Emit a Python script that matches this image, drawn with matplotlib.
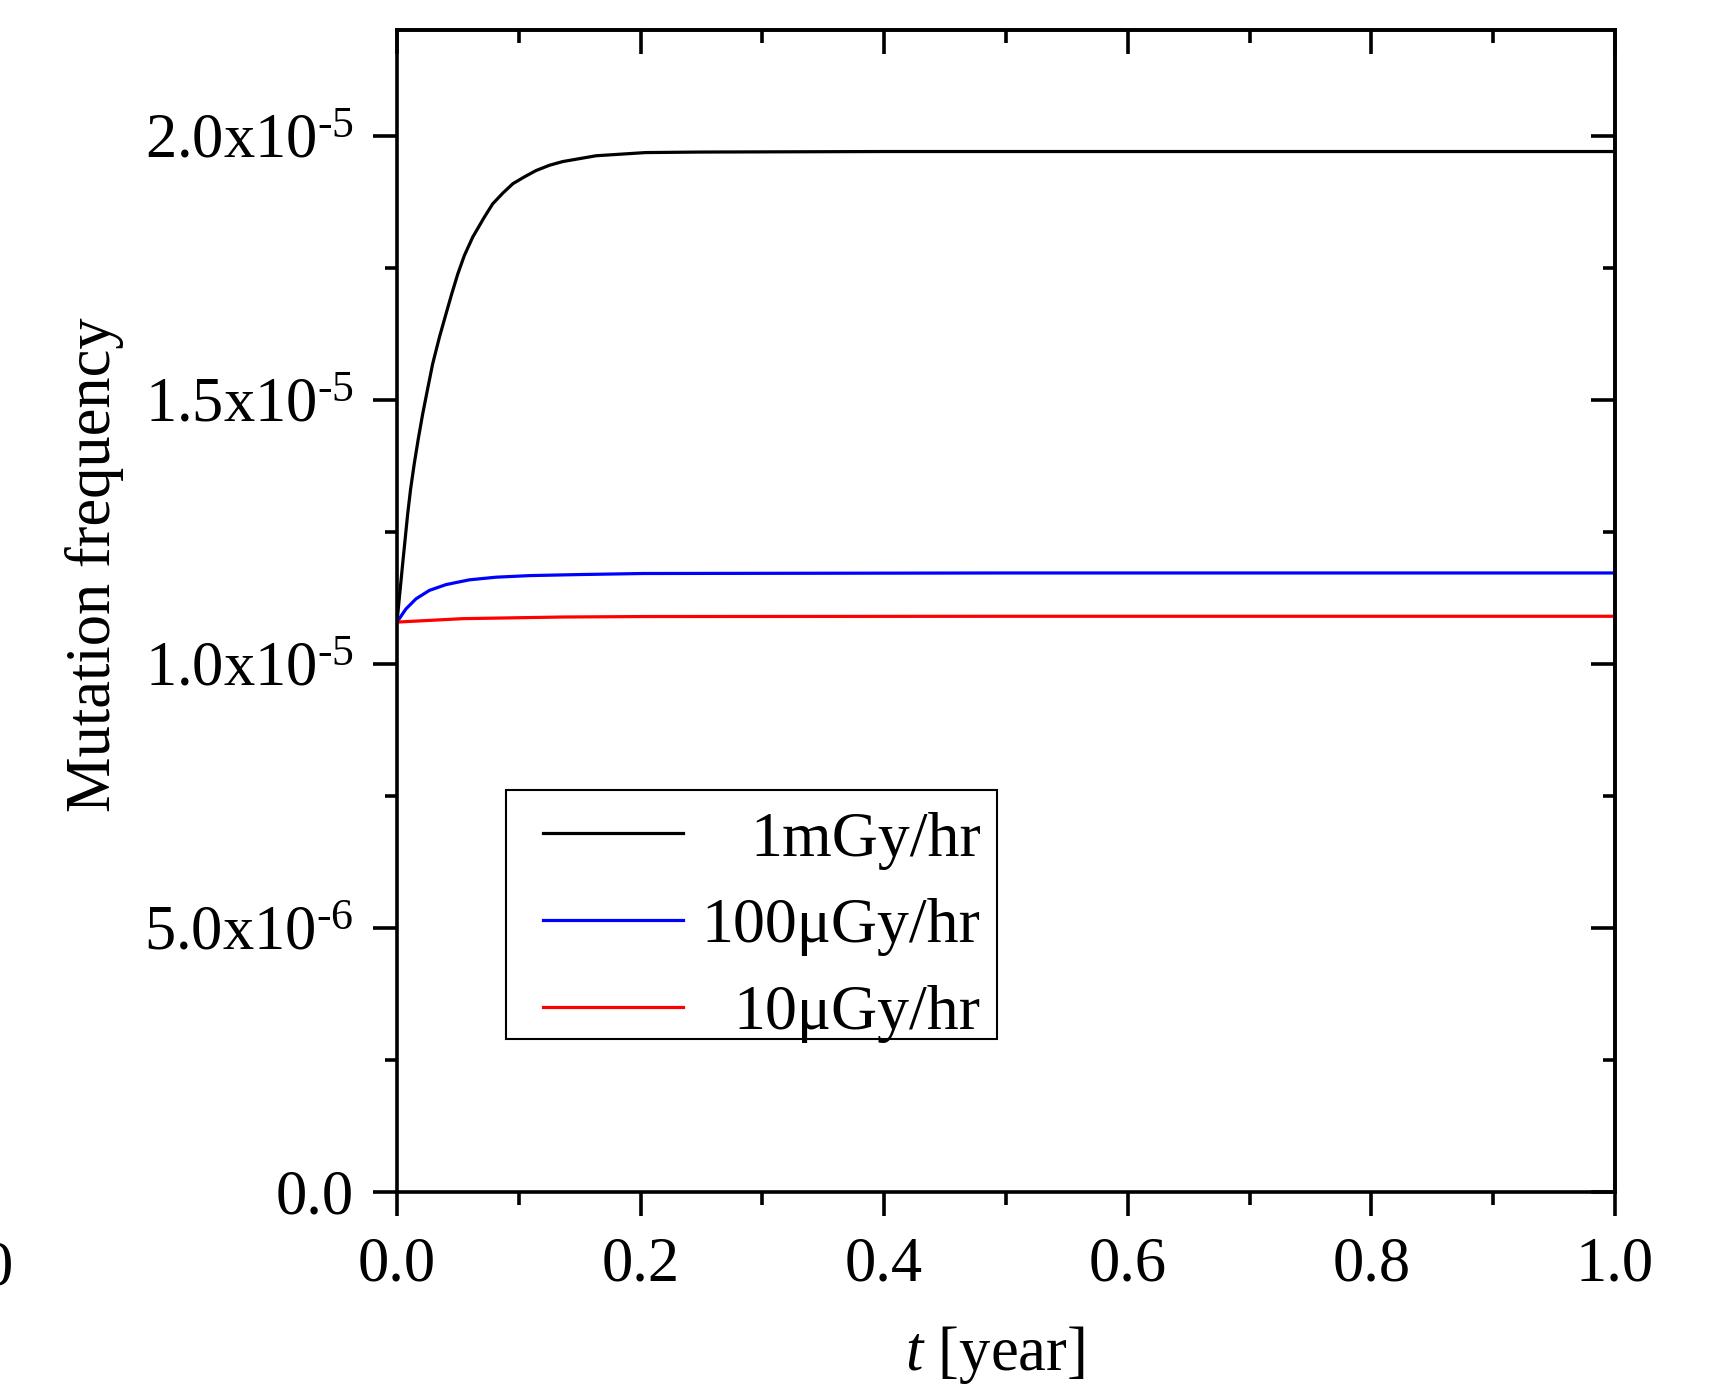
import matplotlib
matplotlib.use("Agg")
import matplotlib.pyplot as plt
from matplotlib.lines import Line2D
from matplotlib.patches import Rectangle
from matplotlib.legend_handler import HandlerLine2D
from matplotlib.ticker import MultipleLocator, FixedLocator, NullFormatter

# values
t_1mGy = [0.0, 0.0047, 0.0088, 0.0112, 0.0142, 0.0175, 0.0211, 0.0252, 0.0293,
          0.0348, 0.0403, 0.0449, 0.0499, 0.0553, 0.0622, 0.0718, 0.0786, 0.0868,
          0.0951, 0.1046, 0.1142, 0.1252, 0.1361, 0.1635, 0.204, 0.248, 0.4,
          0.6, 0.8, 1.0]
f_1mGy = [1.079e-5, 1.190e-5, 1.284e-5, 1.331e-5, 1.379e-5, 1.426e-5, 1.473e-5,
          1.521e-5, 1.568e-5, 1.618e-5, 1.663e-5, 1.700e-5, 1.738e-5, 1.773e-5,
          1.808e-5, 1.846e-5, 1.871e-5, 1.891e-5, 1.909e-5, 1.922e-5, 1.934e-5,
          1.944e-5, 1.951e-5, 1.962e-5, 1.968e-5, 1.969e-5, 1.970e-5, 1.970e-5,
          1.970e-5, 1.970e-5]

t_100uGy = [0.0, 0.0074, 0.0156, 0.0266, 0.0403, 0.0594, 0.0813, 0.1087,
            0.1498, 0.2019, 0.5, 1.0]
f_100uGy = [1.079e-5, 1.104e-5, 1.123e-5, 1.139e-5, 1.150e-5, 1.159e-5,
            1.164e-5, 1.167e-5, 1.169e-5, 1.171e-5, 1.172e-5, 1.172e-5]

t_10uGy = [0.0, 0.054, 0.136, 0.2019, 0.5, 1.0]
f_10uGy = [1.079e-5, 1.0855e-5, 1.0886e-5, 1.0895e-5, 1.090e-5, 1.090e-5]

y_ticks = [0.0, 5.0e-6, 1.0e-5, 1.5e-5, 2.0e-5]
y_labels = ["0.0", r"5.0x10$^{\text{-6}}$", r"1.0x10$^{\text{-5}}$",
            r"1.5x10$^{\text{-5}}$", r"2.0x10$^{\text{-5}}$"]
x_ticks = [0.0, 0.2, 0.4, 0.6, 0.8, 1.0]

plt.rcParams['font.family'] = ['Liberation Serif', 'DejaVu Serif']
plt.rcParams['mathtext.fontset'] = 'custom'
plt.rcParams['mathtext.rm'] = 'Liberation Serif'
plt.rcParams['mathtext.it'] = 'Liberation Serif:italic'

FS = 45
LW = 2.6

fig = plt.figure(figsize=(17.17, 13.98), dpi=100)
ax = fig.add_axes([0.2312, 0.1474, 0.7094, 0.8311])

ax.plot(t_1mGy, f_1mGy, color='black', lw=2.3, label='1mGy/hr', solid_joinstyle='round')
ax.plot(t_100uGy, f_100uGy, color='blue', lw=2.3, label='100\u03bcGy/hr', solid_joinstyle='round')
ax.plot(t_10uGy, f_10uGy, color='red', lw=2.3, label='10\u03bcGy/hr', solid_joinstyle='round')

ax.set_xlim(0, 1.0)
ax.set_ylim(0, 2.2e-5)
ax.xaxis.set_major_locator(FixedLocator(x_ticks))
ax.set_xticklabels([f"{v:.1f}" for v in x_ticks])
ax.xaxis.set_minor_locator(MultipleLocator(0.1))
ax.yaxis.set_major_locator(FixedLocator(y_ticks))
ax.set_yticklabels(y_labels)
ax.yaxis.set_minor_locator(MultipleLocator(2.5e-6))

for s in ax.spines.values():
    s.set_linewidth(LW)

ax.tick_params(which='major', direction='out', length=17, width=LW, labelsize=FS)
ax.tick_params(axis='x', which='major', pad=15)
ax.tick_params(axis='y', which='major', pad=14)
ax.tick_params(which='minor', direction='out', length=9, width=LW)

# inward ticks on top and right
top = ax.secondary_xaxis('top')
top.xaxis.set_major_locator(FixedLocator(x_ticks))
top.xaxis.set_minor_locator(MultipleLocator(0.1))
top.xaxis.set_major_formatter(NullFormatter())
top.tick_params(which='major', direction='in', length=17, width=LW)
top.tick_params(which='minor', direction='in', length=9, width=LW)
top.spines['top'].set_linewidth(LW)

right = ax.secondary_yaxis('right')
right.yaxis.set_major_locator(FixedLocator(y_ticks))
right.yaxis.set_minor_locator(MultipleLocator(2.5e-6))
right.yaxis.set_major_formatter(NullFormatter())
right.tick_params(which='major', direction='in', length=17, width=LW)
right.tick_params(which='minor', direction='in', length=9, width=LW)
right.spines['right'].set_linewidth(LW)

ax.set_ylabel('Mutation frequency', fontsize=FS)
ax.yaxis.set_label_coords(-0.224, 0.54)
ax.set_xlabel(r'$\mathit{t}$ [year]', fontsize=FS)
ax.xaxis.set_label_coords(0.491, -0.114)

# legend entries without frame, the box is drawn separately
leg = ax.legend(loc='lower left', bbox_to_anchor=(0.0903, 0.1197), borderaxespad=0,
                fontsize=46, frameon=False,
                handlelength=2.6, handletextpad=0.3, labelspacing=0.44,
                borderpad=0.15, handler_map={Line2D: HandlerLine2D(xpad=0.42)})
ax.add_patch(Rectangle((0.0895, 0.1317), 0.4031, 0.2143, transform=ax.transAxes,
                       fill=False, ec='black', lw=1.5, zorder=5))

# right-align the legend labels
fig.canvas.draw()
renderer = fig.canvas.get_renderer()
widths = [t.get_window_extent(renderer).width for t in leg.get_texts()]
wmax = max(widths)
for t, w in zip(leg.get_texts(), widths):
    t.set_position((wmax - w, 0))

# cut-off label from the neighbouring panel
fig.text(0.0074, 0.092, '0', fontsize=FS, ha='right', va='center')

fig.savefig('out.png', dpi=100)
